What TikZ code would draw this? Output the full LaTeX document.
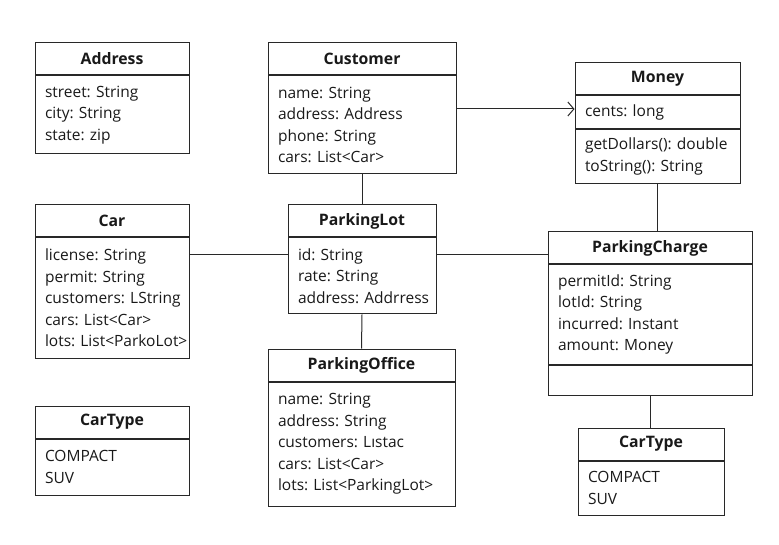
\documentclass[tikz,border=0pt]{standalone}
\usepackage{fontspec}
\setmainfont{Open Sans}
\usepackage{tikz}
\usetikzlibrary{positioning, arrows.meta}
\definecolor{linea}{RGB}{40, 40, 40}
\definecolor{tinta}{RGB}{25, 25, 25}
\tikzset{
    head/.style={draw=linea, line width=1pt, rectangle, minimum height=32pt, inner sep=0pt, text=tinta, font=\fontsize{15.8}{17}\selectfont\bfseries},
    body/.style={draw=linea, line width=1pt, rectangle, inner xsep=10pt, inner ysep=0pt, align=left, text=tinta, font=\fontsize{15.5}{21.5}\selectfont},
    conn/.style={-, linea, line width=1pt},
    assoc/.style={conn, -{Straight Barb[length=6pt, width=14pt]}},
}
\frenchspacing
\hyphenpenalty=10000
\exhyphenpenalty=10000
\begin{document}
\begin{tikzpicture}[x=1pt, y=-1pt]
    \useasboundingbox (0,0) rectangle (779,545);

    \node[head, minimum width=154pt] (addr) at (112,59) {Address};
    \node[body, below=0pt of addr, text width=134pt, minimum height=78pt] (addrB) {street: String\\city: String\\state: zip};

    \node[head, minimum width=188pt] (cust) at (362,59) {Customer};
    \node[body, below=0pt of cust, text width=168pt, minimum height=98pt] (custB) {name: String\\address: Address\\phone: String\\cars: List<Car>};

    \node[head, minimum width=165pt] (money) at (657.5,78.5) {Money};
    \node[body, below=0pt of money, text width=145pt, minimum height=33pt] (moneyA) {cents: long};
    \node[body, below=0pt of moneyA, text width=145pt, minimum height=54pt] (moneyM) {getDollars():~double\\toString(): String};

    \node[head, minimum width=154pt] (car) at (112,221) {Car};
    \node[body, below=0pt of car, text width=134pt, minimum height=120pt] (carB) {license: String\\permit: String\\customers:~LString\\cars: List<Car>\\lots:~List<ParkoLot>};

    \node[head, minimum width=148pt] (lot) at (362,221) {ParkingLot};
    \node[body, below=0pt of lot, text width=128pt, minimum height=76pt] (lotB) {id: String\\rate: String\\address:~Addrress};

    \node[head, minimum width=187pt] (office) at (361.5,365) {ParkingOffice};
    \node[body, below=0pt of office, text width=167pt, minimum height=124pt] (officeB) {name: String\\address: String\\customers: Lıstac\\cars: List<Car>\\lots: List<ParkingLot>};

    \node[head, minimum width=204pt] (chg) at (650,248) {ParkingCharge};
    \node[body, below=0pt of chg, text width=184pt, minimum height=99pt] (chgB) {permitId: String\\lotId: String\\incurred: Instant\\amount: Money};
    \node[body, below=0pt of chgB, text width=184pt, minimum height=30pt] (chgE) {};

    \node[head, minimum width=154pt] (typeL) at (112,422) {CarType};
    \node[body, below=0pt of typeL, text width=134pt, minimum height=56pt] (typeLB) {COMPACT\\SUV};

    \node[head, minimum width=146pt] (typeR) at (651,444) {CarType};
    \node[body, below=0pt of typeR, text width=126pt, minimum height=54pt] (typeRB) {COMPACT\\SUV};

    \coordinate (lotL) at ([yshift=-17pt]lotB.north west);
    \coordinate (moneyL) at ([yshift=3pt]moneyA.west);

    \draw[conn] (custB.south) -- (lot.north);
    \draw[conn] (lotL -| carB.east) -- (lotL);
    \draw[conn] (lotL -| lotB.east) -- (lotL -| chg.west);
    \draw[conn] (lotB.south) -- (office.north);
    \draw[assoc] (moneyL -| custB.east) -- (moneyL);
    \draw[conn] (moneyM.south) -- (moneyM.south |- chg.north);
    \draw[conn] (chgE.south) -- (chgE.south |- typeR.north);
\end{tikzpicture}
\end{document}
